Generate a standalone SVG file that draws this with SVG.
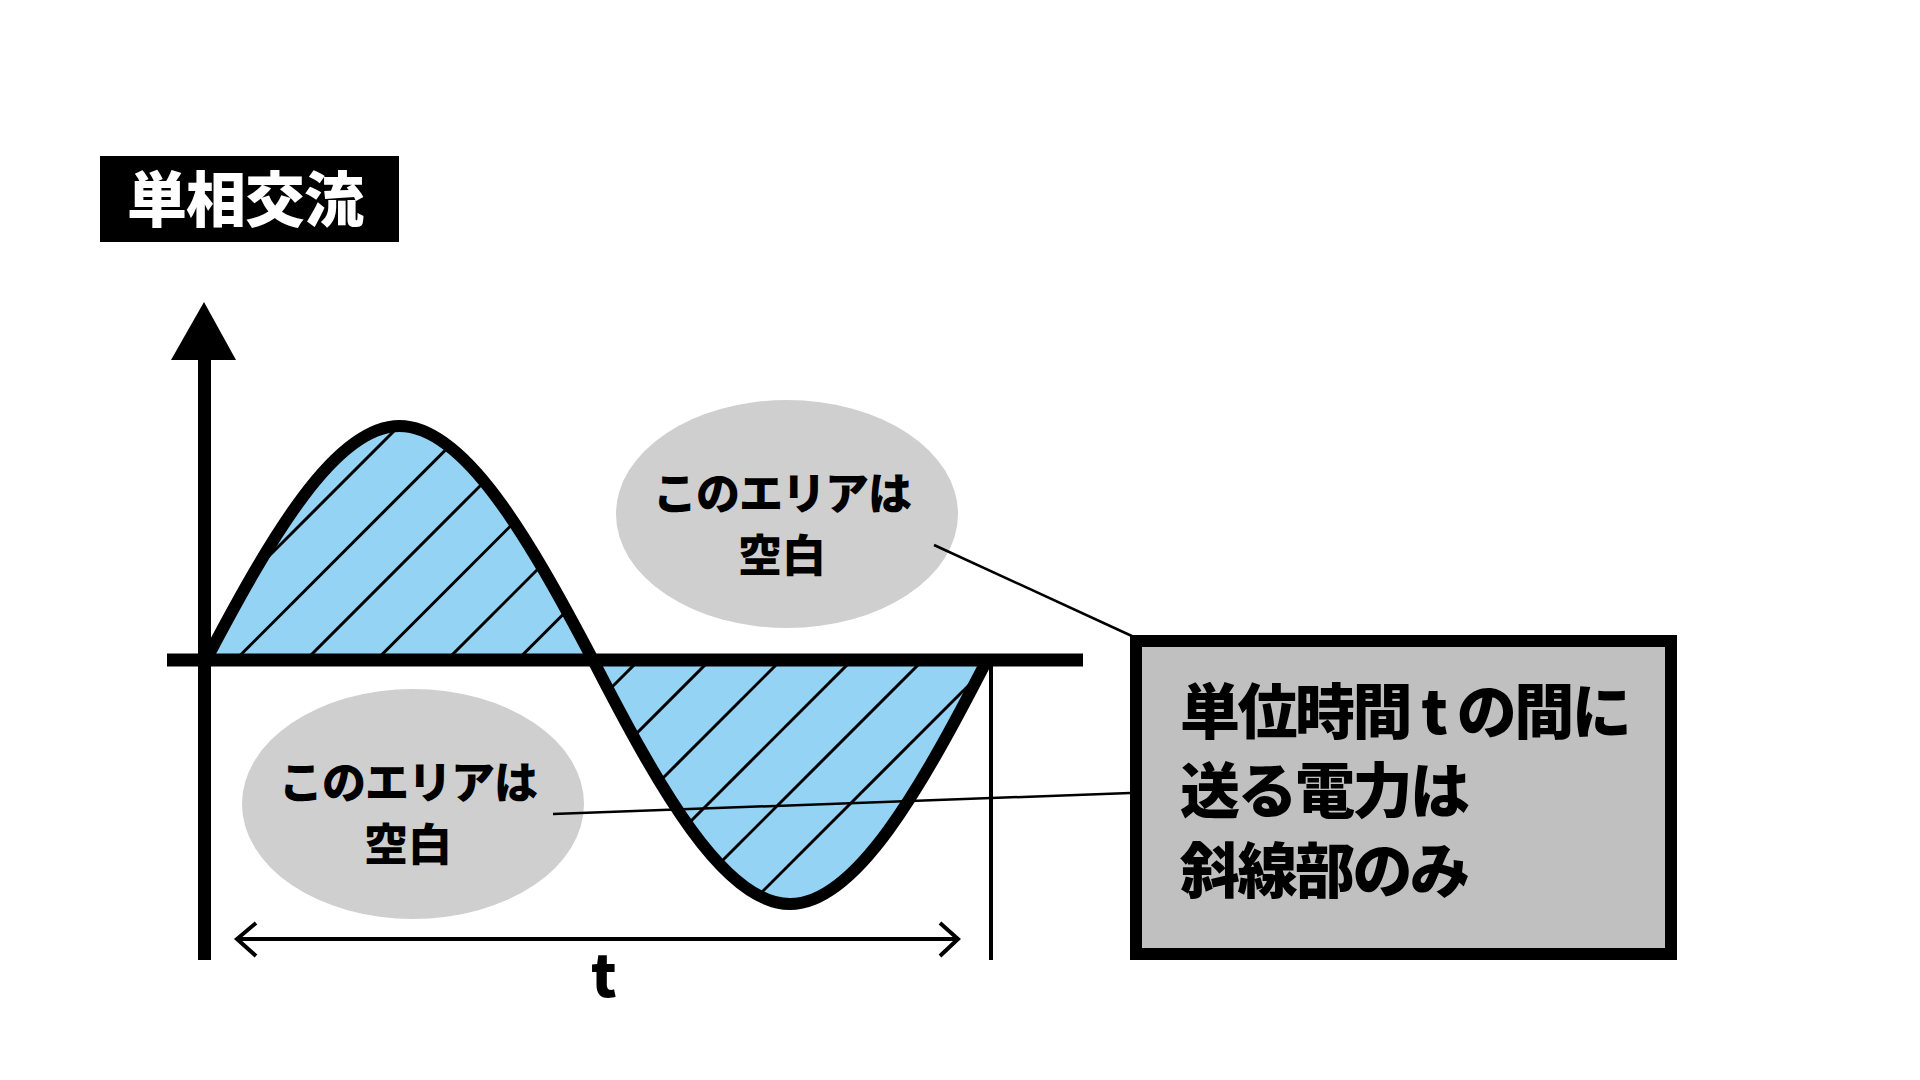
<svg xmlns="http://www.w3.org/2000/svg" width="1920" height="1080" viewBox="0 0 1920 1080">
<style>
.jp{font-family:"Noto Sans CJK JP","Noto Sans",sans-serif;font-weight:900}
.hatch{stroke:#000;stroke-width:3;fill:none}
.lobe{fill:#94D3F3;stroke:none}
.wave{fill:none;stroke:#000;stroke-width:12;stroke-linejoin:round;stroke-linecap:round}
.note{fill:#CFCFCF}
.lead{stroke:#000;stroke-width:2.5;fill:none}
</style>
<defs>
<clipPath id="clipUp"><path d="M206,660 C270.5,537.5 335,426 399.5,426 C464,426 528.5,537.5 593,660 Z"/></clipPath>
<clipPath id="clipDown"><path d="M593,660 C658.7,787.8 724.3,904 790,904 C855.7,904 921.3,787.8 987,660 Z"/></clipPath>
</defs>
<rect width="1920" height="1080" fill="#fff"/>

<g id="title">
<rect x="100" y="156" width="299" height="86" fill="#000"/>
<text class="jp" x="245" y="222" font-size="60" fill="#fff" text-anchor="middle" letter-spacing="-1">単相交流</text>
</g>

<g id="note-upper">
<ellipse class="note" cx="787" cy="514" rx="171" ry="114"/>
<text class="jp" x="782" y="510" font-size="44" fill="#000" text-anchor="middle" letter-spacing="-1">このエリアは</text>
<text class="jp" x="782" y="572" font-size="44" fill="#000" text-anchor="middle">空白</text>
</g>

<g id="note-lower">
<ellipse class="note" cx="413" cy="804" rx="171" ry="115"/>
<text class="jp" x="408" y="799" font-size="44" fill="#000" text-anchor="middle" letter-spacing="-1">このエリアは</text>
<text class="jp" x="408" y="861" font-size="44" fill="#000" text-anchor="middle">空白</text>
</g>

<g id="wave-positive">
<path class="lobe" d="M206,660 C270.5,537.5 335,426 399.5,426 C464,426 528.5,537.5 593,660 Z"/>
<g clip-path="url(#clipUp)" class="hatch">
<line x1="155" y1="670" x2="425" y2="400"/>
<line x1="225.5" y1="670" x2="495.5" y2="400"/>
<line x1="296" y1="670" x2="566" y2="400"/>
<line x1="366.5" y1="670" x2="636.5" y2="400"/>
<line x1="437" y1="670" x2="707" y2="400"/>
<line x1="507.5" y1="670" x2="777.5" y2="400"/>
<line x1="578" y1="670" x2="848" y2="400"/>
</g>
</g>

<g id="wave-negative">
<path class="lobe" d="M593,660 C658.7,787.8 724.3,904 790,904 C855.7,904 921.3,787.8 987,660 Z"/>
<g clip-path="url(#clipDown)" class="hatch">
<line x1="379" y1="920" x2="649" y2="650"/>
<line x1="450" y1="920" x2="720" y2="650"/>
<line x1="521" y1="920" x2="791" y2="650"/>
<line x1="592" y1="920" x2="862" y2="650"/>
<line x1="663" y1="920" x2="933" y2="650"/>
<line x1="734" y1="920" x2="1004" y2="650"/>
<line x1="805" y1="920" x2="1075" y2="650"/>
</g>
</g>

<g id="wave-curve">
<path class="wave" d="M206,660 C270.5,537.5 335,426 399.5,426 C464,426 528.5,537.5 593,660 C658.7,787.8 724.3,904 790,904 C855.7,904 921.3,787.8 987,660"/>
</g>

<g id="axes">
<line x1="204.5" y1="355" x2="204.5" y2="960" stroke="#000" stroke-width="13"/>
<polygon points="204,302 236,360 171,360" fill="#000"/>
<line x1="167" y1="660" x2="1083" y2="660" stroke="#000" stroke-width="13"/>
<line x1="991" y1="660" x2="991" y2="960" stroke="#000" stroke-width="4"/>
</g>

<g id="period">
<line x1="238" y1="939" x2="957" y2="939" stroke="#000" stroke-width="4"/>
<polyline points="256,923 237,939 256,956" fill="none" stroke="#000" stroke-width="4" stroke-linejoin="miter"/>
<polyline points="940,923 958,939 940,956" fill="none" stroke="#000" stroke-width="4" stroke-linejoin="miter"/>
<text class="jp" x="604" y="997" font-size="58" fill="#000" text-anchor="middle">t</text>
</g>

<g id="callout-box">
<rect x="1136" y="641" width="535" height="313" fill="#C0C0C0" stroke="#000" stroke-width="12"/>
<text class="jp" x="1180" y="734" font-size="60" fill="#000" letter-spacing="-2.5">単位時間 t の間に</text>
<text class="jp" x="1180" y="813" font-size="60" fill="#000" letter-spacing="-2.5">送る電力は</text>
<text class="jp" x="1180" y="893" font-size="60" fill="#000" letter-spacing="-2.5">斜線部のみ</text>
</g>

<g id="connectors">
<line class="lead" x1="934" y1="545" x2="1134" y2="637"/>
<line class="lead" x1="553" y1="814" x2="1130" y2="793"/>
</g>
</svg>
